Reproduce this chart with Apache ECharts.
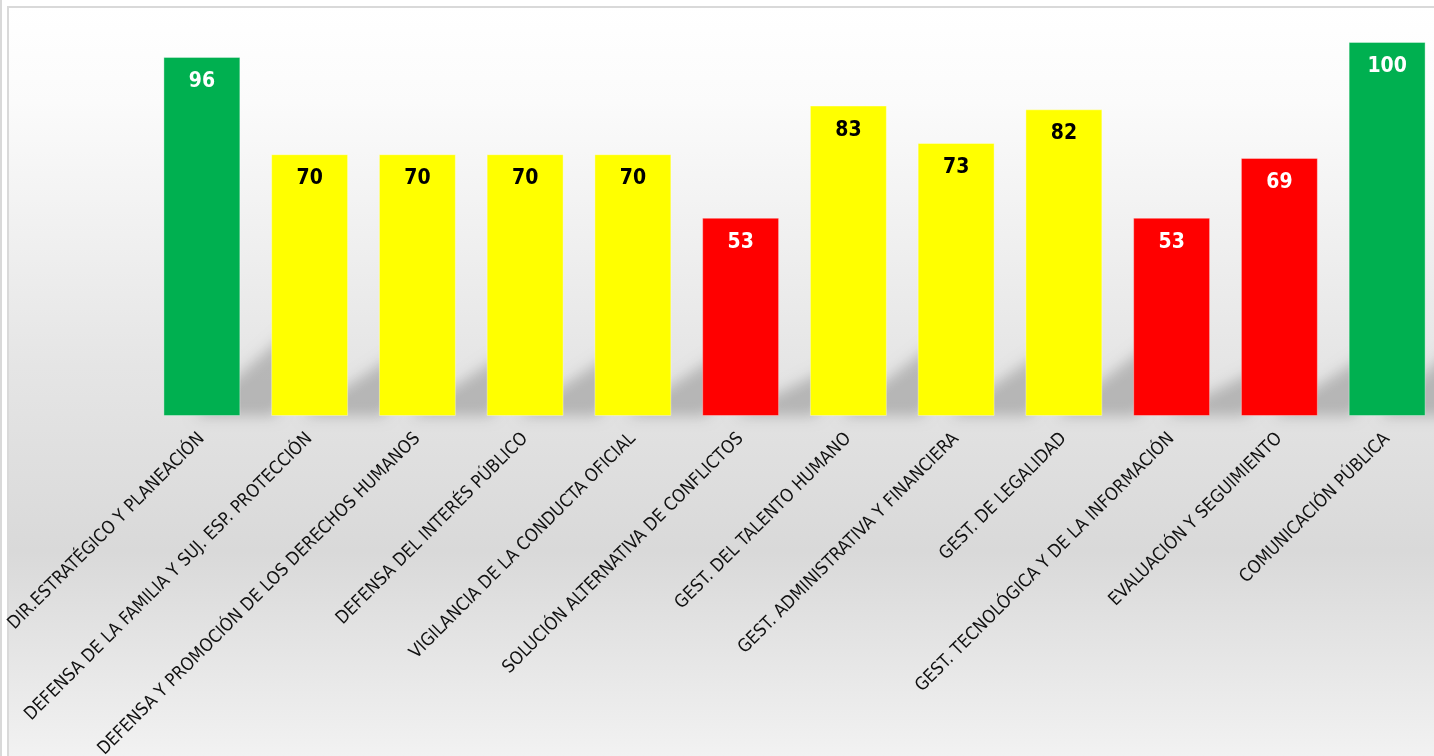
<!DOCTYPE html>
<html>
<head>
<meta charset="utf-8">
<script src="https://cdn.jsdelivr.net/npm/echarts@6/dist/echarts.min.js"></script>
<style>
  html, body { margin: 0; padding: 0; background: #fff; overflow: hidden; }
  #chart { width: 1450px; height: 756px; }
</style>
</head>
<body>
<div id="chart"></div>
<script>
// categorias y valores
const categories = [
  'DIR.ESTRATÉGICO Y PLANEACIÓN',
  'DEFENSA DE LA FAMILIA Y SUJ. ESP. PROTECCIÓN',
  'DEFENSA Y PROMOCIÓN DE LOS DERECHOS HUMANOS',
  'DEFENSA DEL INTERÉS PÚBLICO',
  'VIGILANCIA DE LA CONDUCTA OFICIAL',
  'SOLUCIÓN ALTERNATIVA DE CONFLICTOS',
  'GEST. DEL TALENTO HUMANO',
  'GEST. ADMINISTRATIVA Y FINANCIERA',
  'GEST. DE LEGALIDAD',
  'GEST. TECNOLÓGICA Y DE LA INFORMACIÓN',
  'EVALUACIÓN Y SEGUIMIENTO',
  'COMUNICACIÓN PÚBLICA'
];
const values = [96, 70, 70, 70, 70, 53, 83, 73, 82, 53, 69, 100];

const FONT = "'Liberation Sans Narrow', 'DejaVu Sans Condensed', 'Roboto', sans-serif";

// semaforo: rojo < 70, amarillo < 90, verde >= 90
function colorFor(v) {
  if (v < 70) return '#FF0000';
  if (v < 90) return '#FFFF00';
  return '#00B050';
}

const chart = echarts.init(document.getElementById('chart'));

const option = {
  animation: false,
  backgroundColor: 'transparent',
  graphic: [
    {
      type: 'rect',
      z: -100,
      shape: { x: 8, y: 7, width: 1500, height: 800 },
      style: {
        fill: new echarts.graphic.LinearGradient(0, 0, 0, 1, [
          { offset: 0, color: '#ffffff' },
          { offset: 0.12, color: '#fbfbfb' },
          { offset: 0.45, color: '#e5e5e5' },
          { offset: 0.68, color: '#d9d9d9' },
          { offset: 1, color: '#f8f8f8' }
        ]),
        stroke: '#d9d9d9',
        lineWidth: 2
      }
    },
    {
      type: 'rect',
      z: -100,
      shape: { x: 0, y: 0, width: 2, height: 756 },
      style: { fill: '#d9d9d9' }
    }
  ],
  grid: {
    left: 148,
    top: 42,
    width: 1293,
    height: 374,
    containLabel: false,
    outerBoundsMode: 'none'
  },
  xAxis: {
    type: 'category',
    data: categories,
    axisLine: { show: false },
    axisTick: { show: false },
    axisLabel: {
      interval: 0,
      rotate: 45,
      margin: 20,
      color: '#111',
      fontFamily: FONT,
      fontSize: 18
    }
  },
  yAxis: {
    type: 'value',
    min: 0,
    max: 100,
    show: false,
    splitLine: { show: false }
  },
  series: [
    {
      // sombra en perspectiva detras de cada barra
      type: 'custom',
      z: 1,
      silent: true,
      data: values.map((v, i) => [i, v]),
      renderItem: (params, api) => {
        const i = api.value(0);
        const base = api.coord([i, 0]);
        const top = api.coord([i, api.value(1)]);
        const w = api.size([1, 0])[0] * 0.714;
        const H = base[1] - top[1];
        const x1 = base[0] + w / 2;
        const off = 3000;
        const pts = [
          [x1 - 0.6 * w + off, base[1]],
          [x1 + 0.8 * w + off, base[1] - 0.27 * H],
          [x1 + 1.1 * w + off, base[1] - 0.27 * H],
          [x1 + 0.45 * w + off, base[1]]
        ];
        return {
          type: 'polygon',
          shape: { points: pts },
          style: {
            fill: '#000',
            shadowBlur: 14,
            shadowColor: 'rgba(0,0,0,0.2)',
            shadowOffsetX: -off
          }
        };
      }
    },
    {
      type: 'bar',
      z: 3,
      barCategoryGap: '28.6%',
      data: values.map(v => ({
        value: v,
        itemStyle: { color: colorFor(v) },
        label: { color: colorFor(v) === '#FFFF00' ? '#000' : '#fff' }
      })),
      itemStyle: {
        borderColor: 'rgba(255,255,255,0.35)',
        borderWidth: 1
      },
      label: {
        show: true,
        position: 'insideTop',
        distance: 14,
        fontFamily: FONT,
        fontWeight: 'bold',
        fontSize: 21
      }
    }
  ]
};

chart.setOption(option);
</script>
</body>
</html>
